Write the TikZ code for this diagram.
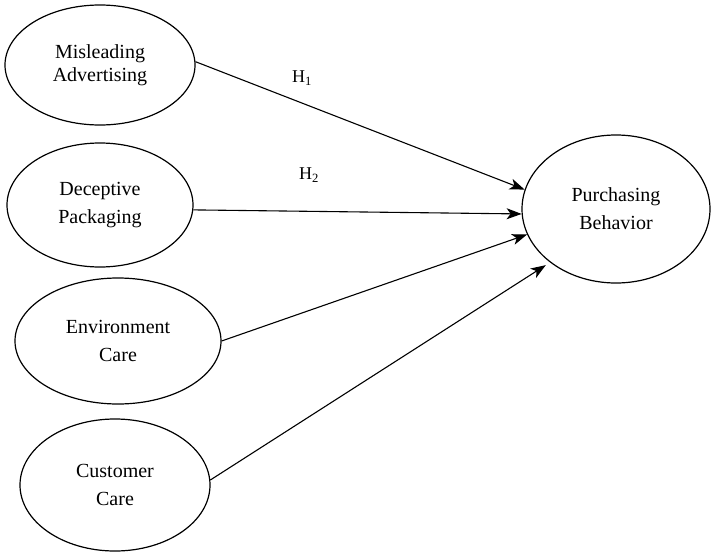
\documentclass[tikz,border=0pt]{standalone}
\usepackage{fontspec}
\setmainfont{Liberation Serif}
\usetikzlibrary{shapes.geometric,arrows.meta}

\begin{document}
\begin{tikzpicture}[x=1pt,y=-1pt,
construct/.style={ellipse,draw,line width=1.2pt,inner sep=0pt,align=center,font=\fontsize{20}{28}\selectfont},
hyp/.style={-{Stealth[length=15pt,width=11pt,inset=4pt]},line width=1.1pt},
hlabel/.style={font=\fontsize{18}{20}\selectfont}]
\useasboundingbox (0,0) rectangle (712,552);

\node[construct,minimum width=190pt,minimum height=120pt,font=\fontsize{20}{23}\selectfont] (ma) at (100,65) {Misleading\\Advertising};
\node[construct,minimum width=186pt,minimum height=124pt] (dp) at (100,205) {Deceptive\\Packaging};
\node[construct,minimum width=206pt,minimum height=126pt] (ec) at (118,341) {Environment\\Care};
\node[construct,minimum width=190pt,minimum height=132pt] (cc) at (115,485) {Customer\\Care};
\node[construct,minimum width=188pt,minimum height=148pt] (pb) at (616,209) {Purchasing\\Behavior};

\node[hlabel] (h1) at (302,78) {H\textsubscript{1}};
\node[hlabel] (h2) at (309,175) {H\textsubscript{2}};

\draw[hyp] (ma.2) -- (pb.168);
\draw[hyp] (dp.-3) -- (pb.183);
\draw[hyp] (ec.east) -- (pb.196);
\draw[hyp,shorten >=5pt] (cc.3) -- (pb.219);
\end{tikzpicture}
\end{document}
